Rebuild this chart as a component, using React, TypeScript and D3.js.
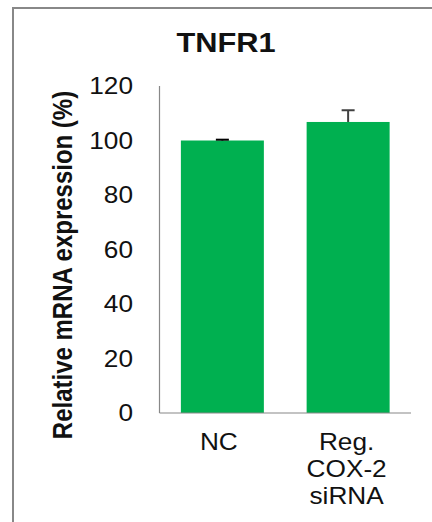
import React from "react";
import * as d3 from "d3";

const categories = ["NC", "Reg.\nCOX-2\nsiRNA"];
const values = [100, 106.8];
const errors = [0.3, 4.3];
const errorColors = ["#000000", "#404040"];
const yTicks = [0, 20, 40, 60, 80, 100, 120];
const title = "TNFR1";
const yTitle = "Relative mRNA expression (%)";

export default function App() {
  const width = 432;
  const height = 522;
  const plotLeft = 159.5;
  const plotRight = 411;
  const plotTop = 86;
  const plotBottom = 413;
  const stretch = 1.14; // text looks horizontally stretched in the reference

  // x scale: one band per category
  const x = d3.scaleBand()
    .domain(categories)
    .range([plotLeft, plotRight])
    .paddingInner(0.34)
    .paddingOuter(0.17);

  // y scale
  const y = d3.scaleLinear()
    .domain([0, 120])
    .range([plotBottom, plotTop]);

  const font = "'Liberation Sans', Arial, sans-serif";

  return (
    <svg width={width} height={height} style={{ position: "absolute", left: 0, top: 0 }}
      fontFamily={font}>
      <rect width={width} height={height} fill="white" />

      {/* outer frame (cut off at right and bottom) */}
      <rect x={13} y={8} width={width + 20} height={height + 20}
        fill="none" stroke="#888888" strokeWidth={2} />

      {/* title */}
      <text transform={`translate(226, 52) scale(${stretch}, 1)`} textAnchor="middle"
        fontSize={27} fontWeight="bold" fill="#111">{title}</text>

      {/* y-axis title */}
      <text transform={`translate(72, 265) scale(${stretch}, 1) rotate(-90)`} textAnchor="middle"
        fontSize={24} fontWeight="bold" fill="#111">{yTitle}</text>

      {/* bars */}
      {values.map((v, i) => (
        <rect key={i} x={x(categories[i])} y={y(v)} width={x.bandwidth()}
          height={y(0) - y(v)} fill="#00B050" />
      ))}

      {/* error bars (upper only) */}
      {values.map((v, i) => {
        const cx = (x(categories[i]) as number) + x.bandwidth() / 2;
        return (
          <g key={i} stroke={errorColors[i]} strokeWidth={2}>
            <line x1={cx} x2={cx} y1={y(v)} y2={y(v + errors[i])} />
            <line x1={cx - 6.5} x2={cx + 6.5} y1={y(v + errors[i])} y2={y(v + errors[i])} />
          </g>
        );
      })}

      {/* axes */}
      <g stroke="#888888" strokeWidth={1.2}>
        <line x1={plotLeft} x2={plotLeft} y1={plotTop} y2={plotBottom} />
        <line x1={plotLeft} x2={plotRight} y1={plotBottom} y2={plotBottom} />
      </g>

      {/* y tick labels */}
      {yTicks.map(t => (
        <text key={t} transform={`translate(133, ${y(t)}) scale(${stretch}, 1)`}
          textAnchor="end" dy="0.36em" fontSize={23} fill="#111">{t}</text>
      ))}

      {/* x tick labels */}
      {categories.map((c, i) => {
        const cx = (x(c) as number) + x.bandwidth() / 2 - (i === 0 ? 3.5 : 1.5);
        return c.split("\n").map((line, j) => (
          <text key={`${i}-${j}`} transform={`translate(${cx}, ${450 + j * 27}) scale(${stretch}, 1)`}
            textAnchor="middle" fontSize={23} fill="#111">{line}</text>
        ));
      })}
    </svg>
  );
}
